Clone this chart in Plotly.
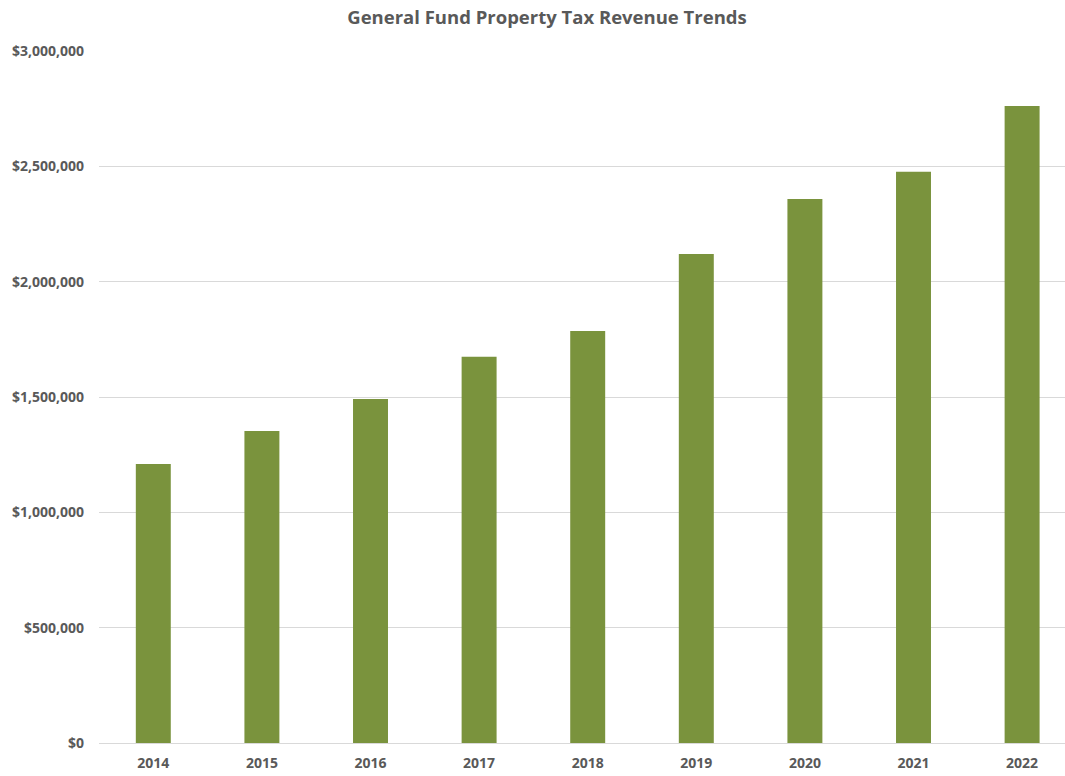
import plotly.graph_objects as go

# Fiscal years and General Fund property tax revenue (USD)
years = ["2014", "2015", "2016", "2017", "2018", "2019", "2020", "2021", "2022"]
revenue = [1210000, 1353000, 1491000, 1674000, 1786000, 2120000, 2358000, 2476000, 2762000]

tick_values = [0, 500000, 1000000, 1500000, 2000000, 2500000, 3000000]
tick_labels = ["$0", "$500,000", "$1,000,000", "$1,500,000", "$2,000,000", "$2,500,000", "$3,000,000"]

label_font = dict(family="Open Sans", size=14, color="#595959", weight="bold")

fig = go.Figure(
    go.Bar(
        x=list(range(len(years))),
        y=revenue,
        marker=dict(color="#7A933D", line=dict(width=0)),
        hoverinfo="y",
    )
)

fig.update_layout(
    width=1065,
    height=776,
    paper_bgcolor="white",
    plot_bgcolor="white",
    margin=dict(l=99, r=0, t=51, b=33),
    bargap=0.678,
    showlegend=False,
    title=dict(
        text="General Fund Property Tax Revenue Trends",
        x=547 / 1065,
        xanchor="center",
        y=1 - 18 / 776,
        yanchor="middle",
        font=dict(family="Open Sans", size=18.5, color="#595959", weight="bold"),
    ),
    xaxis=dict(
        range=[-0.5, 8.395],
        tickmode="array",
        tickvals=list(range(len(years))),
        ticktext=years,
        tickfont=label_font,
        showgrid=False,
        showline=True,
        linecolor="#D9D9D9",
        linewidth=1,
        ticks="",
        ticklabelstandoff=7,
        zeroline=False,
    ),
    yaxis=dict(
        range=[0, 3000000],
        tickmode="array",
        tickvals=tick_values,
        ticktext=tick_labels,
        tickfont=label_font,
        showgrid=True,
        gridcolor="#D9D9D9",
        gridwidth=1,
        zeroline=False,
        ticks="",
        ticklabelstandoff=14,
    ),
)

fig.write_html("out.html")
